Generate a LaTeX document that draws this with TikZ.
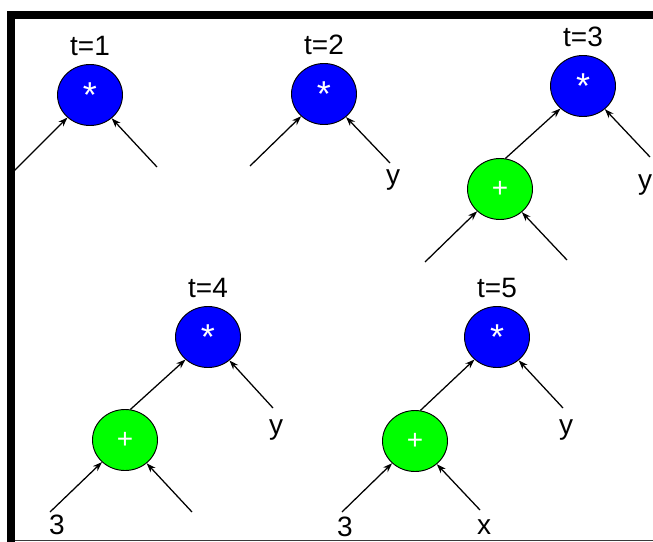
\documentclass[tikz,border=0pt]{standalone}
\usepackage{fontspec}
\setmainfont{Liberation Sans}
\usetikzlibrary{arrows.meta, positioning, shapes.geometric}
\definecolor{opblue}{HTML}{0000FF}
\definecolor{opgreen}{HTML}{00FF00}
\definecolor{framegray}{HTML}{3A3A3A}

\begin{document}
\begin{tikzpicture}[
      x=0.75pt, y=-0.75pt,
      font=\fontsize{21}{25}\selectfont,
      op/.style={draw, ellipse, minimum width=48.75pt, minimum height=45.75pt,
        inner sep=0pt, line width=0.7pt, text=white},
      mul/.style={op, fill=opblue, font=\fontsize{27}{30}\selectfont},
      add/.style={op, fill=opgreen},
      stamp/.style={inner sep=0pt},
      leaf/.style={inner sep=0pt},
      arc/.style={->, line width=0.95pt},
      >={Stealth[length=7pt, width=5pt]}
    ]
      \useasboundingbox (0,0) rectangle (653,542);
      \fill (7,11) rectangle (653,19);
      \fill (7,11) rectangle (15,542);
      \draw[framegray, line width=0.75pt] (15,540.5) -- (653,540.5);

      \node[mul] (mul1) at (90,95) {*};
      \node[stamp, above=6pt of mul1] (t1) {t=1};
      \coordinate (mul1l) at (13,172);
      \coordinate (mul1r) at (157,167);
      \draw[arc] (mul1l) -- (mul1);
      \draw[arc] (mul1r) -- (mul1);

      \node[mul] (mul2) at (324,94) {*};
      \node[stamp, above=6pt of mul2] (t2) {t=2};
      \coordinate (mul2l) at (250,166);
      \coordinate (mul2r) at (390,163);
      \node[leaf] (y2) at (393,180) {y};
      \draw[arc] (mul2l) -- (mul2);
      \draw[arc] (mul2r) -- (mul2);

      \node[mul] (mul3) at (583,86) {*};
      \node[stamp, above=6pt of mul3] (t3) {t=3};
      \node[add] (add3) at (500,189) {+};
      \coordinate (mul3r) at (650,157);
      \node[leaf] (y3) at (645,185) {y};
      \coordinate (add3l) at (425,262);
      \coordinate (add3r) at (567,260);
      \draw[arc] (add3.80) -- (mul3.225);
      \draw[arc] (mul3r) -- (mul3);
      \draw[arc] (add3l) -- (add3);
      \draw[arc] (add3r) -- (add3);

      \node[mul] (mul4) at (208,337) {*};
      \node[stamp, above=6pt of mul4] (t4) {t=4};
      \node[add] (add4) at (125,440) {+};
      \coordinate (mul4r) at (273,408);
      \node[leaf] (y4) at (276,430) {y};
      \coordinate (add4l) at (50,512);
      \node[leaf] (three4) at (57,525) {3};
      \coordinate (add4r) at (192,512);
      \draw[arc] (add4.80) -- (mul4.225);
      \draw[arc] (mul4r) -- (mul4);
      \draw[arc] (add4l) -- (add4);
      \draw[arc] (add4r) -- (add4);

      \node[mul] (mul5) at (497,337) {*};
      \node[stamp, above=6pt of mul5] (t5) {t=5};
      \node[add] (add5) at (415,441) {+};
      \coordinate (mul5r) at (563,408);
      \node[leaf] (y5) at (566,430) {y};
      \coordinate (add5l) at (342,512);
      \node[leaf] (three5) at (345,527) {3};
      \coordinate (add5r) at (480,510);
      \node[leaf] (x5) at (484,527) {x};
      \draw[arc] (add5.80) -- (mul5.225);
      \draw[arc] (mul5r) -- (mul5);
      \draw[arc] (add5l) -- (add5);
      \draw[arc] (add5r) -- (add5);
    \end{tikzpicture}
\end{document}
